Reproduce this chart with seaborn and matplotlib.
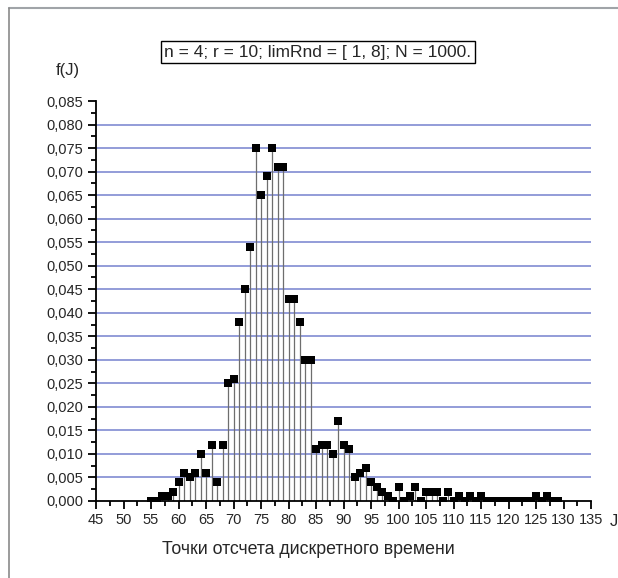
import numpy as np
import pandas as pd
import matplotlib
matplotlib.use("Agg")
import matplotlib.pyplot as plt
import seaborn as sns
from matplotlib.ticker import MultipleLocator, FuncFormatter
from matplotlib.lines import Line2D

# discrete time points J and probability f(J)
j_points = list(range(55, 130))
f_values = [
    0.000, 0.000, 0.001, 0.001, 0.002, 0.004, 0.006, 0.005, 0.006, 0.010,   # 55-64
    0.006, 0.012, 0.004, 0.012, 0.025, 0.026, 0.038, 0.045, 0.054, 0.075,   # 65-74
    0.065, 0.069, 0.075, 0.071, 0.071, 0.043, 0.043, 0.038, 0.030, 0.030,   # 75-84
    0.011, 0.012, 0.012, 0.010, 0.017, 0.012, 0.011, 0.005, 0.006, 0.007,   # 85-94
    0.004, 0.003, 0.002, 0.001, 0.000, 0.003, 0.000, 0.001, 0.003, 0.000,   # 95-104
    0.002, 0.002, 0.002, 0.000, 0.002, 0.000, 0.001, 0.000, 0.001, 0.000,   # 105-114
    0.001, 0.000, 0.000, 0.000, 0.000, 0.000, 0.000, 0.000, 0.000, 0.000,   # 115-124
    0.001, 0.000, 0.001, 0.000, 0.000,                                      # 125-129
]
grid_levels = [0.005 * k for k in range(1, 17)]
legend_text = "n = 4; r = 10; limRnd = [ 1, 8]; N = 1000."
x_label = "Точки отсчета дискретного времени"

df = pd.DataFrame({"J": j_points, "f": f_values})

sns.set_style("white")
plt.rcParams["font.family"] = ["Liberation Sans", "DejaVu Sans"]

fig = plt.figure(figsize=(6.18, 5.78), dpi=100)
ax = fig.add_axes([96 / 618, 77 / 578, 495 / 618, 400 / 578])

# horizontal guide lines
for lvl in grid_levels:
    ax.axhline(lvl, color="#8a94d6", lw=1.3, zorder=0)

# stems + square markers
ax.vlines(df["J"], 0, df["f"], color="#6e6e6e", lw=0.9, zorder=1)
sns.scatterplot(data=df, x="J", y="f", marker="s", s=40, color="black",
                edgecolor="black", linewidth=0, ax=ax, zorder=3)

ax.set_xlim(45, 135)
ax.set_ylim(0, 0.085)
ax.xaxis.set_major_locator(MultipleLocator(5))
ax.xaxis.set_minor_locator(MultipleLocator(2.5))
ax.yaxis.set_major_locator(MultipleLocator(0.005))
ax.yaxis.set_minor_locator(MultipleLocator(0.0025))
ax.yaxis.set_major_formatter(FuncFormatter(lambda v, p: f"{v:.3f}".replace(".", ",")))
ax.tick_params(axis="both", which="major", direction="out", length=6, width=1.3,
               labelsize=10.5, color="black", pad=3)
ax.tick_params(axis="both", which="minor", direction="out", length=3.5, width=1.3,
               color="black")
ax.tick_params(axis="x", which="both", bottom=True)
ax.tick_params(axis="y", which="both", left=True)

for side in ["top", "right"]:
    ax.spines[side].set_visible(False)
for side in ["left", "bottom"]:
    ax.spines[side].set_color("black")
    ax.spines[side].set_linewidth(1.3)

ax.set_xlabel("")
ax.set_ylabel("")
fig.text(308 / 618, 1 - 550 / 578, x_label, ha="center", va="center", fontsize=12.8)
fig.text(68 / 618, 1 - 70 / 578, "f(J)", ha="center", va="center", fontsize=12)
fig.text(610 / 618, 1 - 522 / 578, "J", ha="left", va="center", fontsize=12)
fig.text(318 / 618, 1 - 52 / 578, legend_text, ha="center", va="center", fontsize=12.5,
         bbox=dict(boxstyle="square,pad=0.22", facecolor="white", edgecolor="black", lw=1))

# window frame lines
fig.add_artist(Line2D([9 / 618, 1], [1 - 8 / 578, 1 - 8 / 578], color="#a0a4a8", lw=1.5))
fig.add_artist(Line2D([9 / 618, 9 / 618], [0, 1 - 8 / 578], color="#8a8a8a", lw=1.2))

fig.savefig("out.png", dpi=100)
